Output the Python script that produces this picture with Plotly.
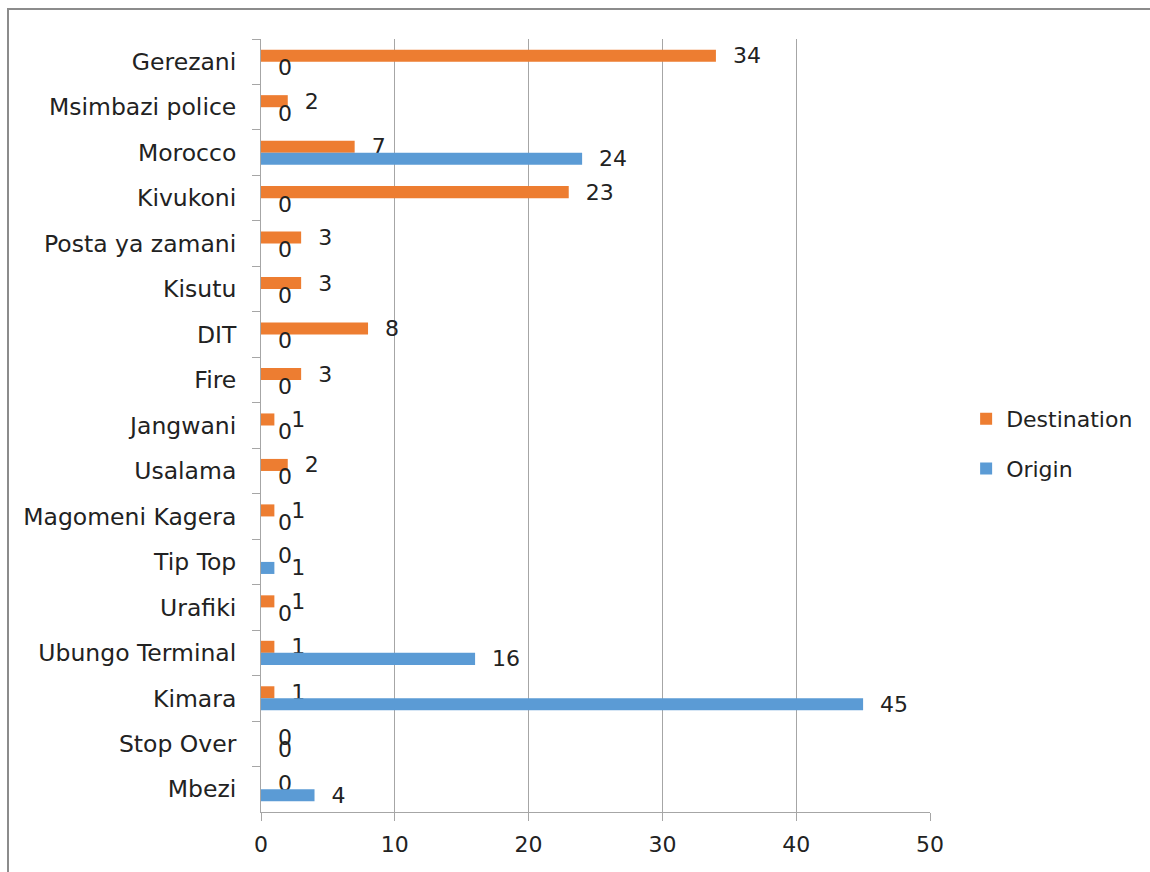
import plotly.graph_objects as go

categories = ["Gerezani", "Msimbazi police", "Morocco", "Kivukoni", "Posta ya zamani",
              "Kisutu", "DIT", "Fire", "Jangwani", "Usalama", "Magomeni Kagera",
              "Tip Top", "Urafiki", "Ubungo Terminal", "Kimara", "Stop Over", "Mbezi"]
destination = [34, 2, 7, 23, 3, 3, 8, 3, 1, 2, 1, 0, 1, 1, 1, 0, 0]
origin = [0, 0, 24, 0, 0, 0, 0, 0, 0, 0, 0, 1, 0, 16, 45, 0, 4]
x_ticks = [0, 10, 20, 30, 40, 50]

FONT = "DejaVu Sans"
ORANGE = "#ED7D31"
BLUE = "#5B9BD5"
GRID = "#A6A6A6"
TXT = "#222222"

fig = go.Figure()
fig.add_trace(go.Bar(
    y=categories, x=destination, name="Destination", orientation="h",
    marker=dict(color=ORANGE, line=dict(width=0)),
    text=destination, texttemplate="\u00a0\u00a0%{x}", textposition="outside",
    constraintext="none", cliponaxis=False, legendgroup="d",
    textfont=dict(family=FONT, size=22, color=TXT),
))
fig.add_trace(go.Bar(
    y=categories, x=origin, name="Origin", orientation="h",
    marker=dict(color=BLUE, line=dict(width=0)),
    text=origin, texttemplate="\u00a0\u00a0%{x}", textposition="outside",
    constraintext="none", cliponaxis=False, legendgroup="o",
    textfont=dict(family=FONT, size=22, color=TXT),
))

fig.update_layout(
    width=1150, height=872,
    margin=dict(l=261, r=220, t=39, b=60),
    paper_bgcolor="white", plot_bgcolor="white",
    barmode="group", bargap=0.47, bargroupgap=0,
    font=dict(family=FONT, size=22, color=TXT),
    xaxis=dict(range=[0, 50], tickvals=x_ticks, showgrid=True, gridcolor=GRID,
               gridwidth=1, zeroline=False, showline=True, linecolor=GRID,
               ticks="outside", ticklen=8, tickcolor=GRID, ticklabelstandoff=5,
               tickfont=dict(family=FONT, size=22, color=TXT)),
    yaxis=dict(autorange="reversed", showgrid=False, showline=True, linecolor=GRID,
               ticks="outside", ticklen=8, tickcolor=GRID, tickson="boundaries",
               ticklabelstandoff=19,
               tickfont=dict(family=FONT, size=23.5, color=TXT)),
    legend=dict(x=1.054, xanchor="left", y=0.476, yanchor="middle",
                font=dict(family=FONT, size=22, color=TXT),
                tracegroupgap=18, bgcolor="rgba(0,0,0,0)"),
    shapes=[dict(type="rect", xref="paper", yref="paper",
                 x0=(8 - 261) / 669, x1=(1170 - 261) / 669,
                 y0=(812 - 890) / 773, y1=(812 - 9) / 773,
                 line=dict(color="#8C8C8C", width=2), layer="below")],
)

fig.write_html("out.html")
